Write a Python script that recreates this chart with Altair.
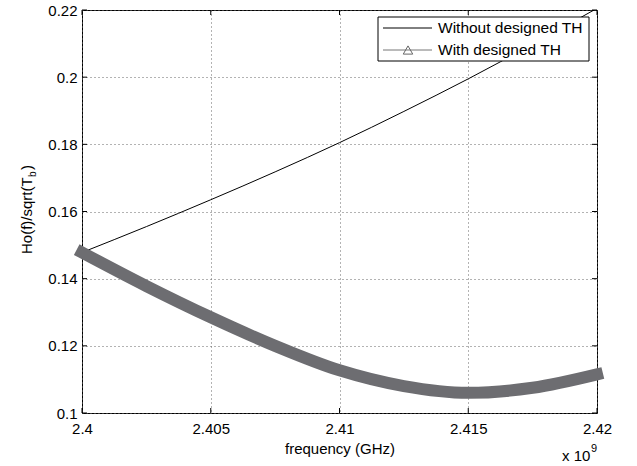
import altair as alt
import pandas as pd

# ---- data ----
freq = [2.4, 2.4025, 2.405, 2.4075, 2.41, 2.4125, 2.415, 2.4175, 2.42]  # x 1e9 Hz
without_th = [0.1478, 0.1555, 0.1635, 0.1718, 0.1805, 0.1898, 0.1995, 0.2098, 0.2205]
with_th = [0.1478, 0.1378, 0.1285, 0.1200, 0.1127, 0.1080, 0.1060, 0.1075, 0.1115]
x_ticks = [2.4, 2.405, 2.41, 2.415, 2.42]
y_ticks = [0.1, 0.12, 0.14, 0.16, 0.18, 0.2, 0.22]
series_names = ["Without designed TH", "With designed TH"]

W, H = 515, 403
FONT = "Liberation Sans"
BAND = "#6d6d71"

xscale = alt.Scale(domain=[2.4, 2.42], nice=False, zero=False)
yscale = alt.Scale(domain=[0.1, 0.22], nice=False, zero=False)

df = pd.DataFrame({"f": freq, "without": without_th, "with": with_th})
xt = pd.DataFrame({"t": x_ticks})
yt = pd.DataFrame({"v": y_ticks})
one = pd.DataFrame({"k": [0]})

x_axis = alt.Axis(values=x_ticks, labelExpr="format(datum.value, '~g')", grid=True,
                  gridDash=[1, 3], gridColor="#666", tickSize=0, domain=False,
                  labelFlush=False, labelOverlap=False,
                  labelPadding=8, title="frequency (GHz)", titlePadding=5)
y_axis = alt.Axis(values=y_ticks, labelExpr="format(datum.value, '~g')", grid=True,
                  gridDash=[1, 3], gridColor="#666", tickSize=0, domain=False,
                  labelFlush=False, labelOverlap=False,
                  labelPadding=5, title=None)

without_line = alt.Chart(df).mark_line(color="black", strokeWidth=1, interpolate="monotone", clip=True).encode(
    x=alt.X("f:Q", scale=xscale, axis=x_axis),
    y=alt.Y("without:Q", scale=yscale, axis=y_axis),
)
with_line = alt.Chart(df).mark_line(color=BAND, strokeWidth=12, strokeCap="square", interpolate="monotone").encode(
    x=alt.X("f:Q", scale=xscale),
    y=alt.Y("with:Q", scale=yscale),
)

tick_b = alt.Chart(xt).mark_rule(color="black").encode(x=alt.X("t:Q", scale=xscale), y=alt.value(H), y2=alt.value(H - 5))
tick_t = alt.Chart(xt).mark_rule(color="black").encode(x=alt.X("t:Q", scale=xscale), y=alt.value(0), y2=alt.value(5))
tick_l = alt.Chart(yt).mark_rule(color="black").encode(y=alt.Y("v:Q", scale=yscale), x=alt.value(0), x2=alt.value(5))
tick_r = alt.Chart(yt).mark_rule(color="black").encode(y=alt.Y("v:Q", scale=yscale), x=alt.value(W), x2=alt.value(W - 5))

# legend
leg_box = alt.Chart(one).mark_rect(fill="white", stroke="black", strokeWidth=1).encode(
    x=alt.value(296), x2=alt.value(507), y=alt.value(7), y2=alt.value(51))
leg_l1 = alt.Chart(one).mark_rule(color="black", strokeWidth=1).encode(x=alt.value(301), x2=alt.value(350), y=alt.value(18))
leg_l2 = alt.Chart(one).mark_rule(color="#777", strokeWidth=1).encode(x=alt.value(301), x2=alt.value(350), y=alt.value(40))
leg_pt = alt.Chart(one).mark_point(shape="triangle-up", filled=False, color="#666", size=90, strokeWidth=1, opacity=1).encode(
    x=alt.value(326), y=alt.value(40))
leg_t1 = alt.Chart(one).mark_text(align="left", baseline="middle", fontSize=15.5, font=FONT, color="black").encode(
    x=alt.value(356), y=alt.value(18), text=alt.value(series_names[0]))
leg_t2 = alt.Chart(one).mark_text(align="left", baseline="middle", fontSize=15.5, font=FONT, color="black").encode(
    x=alt.value(356), y=alt.value(40), text=alt.value(series_names[1]))

# y-axis title with subscript
yt1 = alt.Chart(one).mark_text(angle=270, align="left", baseline="alphabetic", fontSize=15, font=FONT, color="black").encode(
    x=alt.value(-50), y=alt.value(244), text=alt.value("Ho(f)/sqrt(T"))
yt2 = alt.Chart(one).mark_text(angle=270, align="left", baseline="alphabetic", fontSize=10, font=FONT, color="black").encode(
    x=alt.value(-46), y=alt.value(167), text=alt.value("b"))
yt3 = alt.Chart(one).mark_text(angle=270, align="left", baseline="alphabetic", fontSize=15, font=FONT, color="black").encode(
    x=alt.value(-50), y=alt.value(160), text=alt.value(")"))

# x multiplier
mul1 = alt.Chart(one).mark_text(align="left", baseline="alphabetic", fontSize=15, font=FONT, color="black").encode(
    x=alt.value(480), y=alt.value(451), text=alt.value("x 10"))
mul2 = alt.Chart(one).mark_text(align="left", baseline="alphabetic", fontSize=11, font=FONT, color="black").encode(
    x=alt.value(509), y=alt.value(442), text=alt.value("9"))

chart = alt.layer(
    without_line, with_line, tick_b, tick_t, tick_l, tick_r,
    leg_box, leg_l1, leg_l2, leg_pt, leg_t1, leg_t2,
    yt1, yt2, yt3, mul1, mul2,
).properties(
    width=W, height=H, autosize="none",
    padding={"left": 82, "top": 10, "right": 40, "bottom": 53},
    background="white",
).configure_view(
    stroke="black", strokeWidth=1
).configure_axis(
    labelFont=FONT, labelFontSize=15, labelColor="black",
    titleFont=FONT, titleFontSize=15, titleFontWeight="normal", titleColor="black",
)

chart.save("out.html", embed_options={"renderer": "svg", "actions": False})
